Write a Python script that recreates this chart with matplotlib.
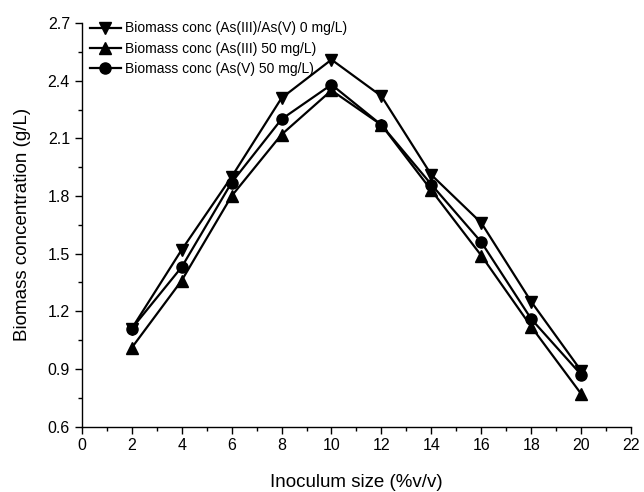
import matplotlib
matplotlib.use('Agg')
import matplotlib.pyplot as plt
from matplotlib.ticker import MultipleLocator

plt.rcParams['font.family'] = ['Liberation Sans', 'DejaVu Sans']

# inoculum size (%v/v)
inoculum = [2, 4, 6, 8, 10, 12, 14, 16, 18, 20]

# biomass concentration (g/L)
biomass_ctrl = [1.11, 1.52, 1.90, 2.31, 2.51, 2.32, 1.91, 1.66, 1.25, 0.89]
biomass_as3 = [1.01, 1.36, 1.80, 2.12, 2.35, 2.17, 1.83, 1.49, 1.12, 0.77]
biomass_as5 = [1.11, 1.43, 1.87, 2.20, 2.38, 2.17, 1.86, 1.56, 1.16, 0.87]

labels = ['Biomass conc (As(III)/As(V) 0 mg/L)',
          'Biomass conc (As(III) 50 mg/L)',
          'Biomass conc (As(V) 50 mg/L)']

fig = plt.figure(figsize=(6.44, 4.92), dpi=100)
ax = fig.add_axes([0.127, 0.133, 0.853, 0.820])

ax.plot(inoculum, biomass_ctrl, 'k-', marker='v', ms=8, lw=1.6, label=labels[0])
ax.plot(inoculum, biomass_as3, 'k-', marker='^', ms=8, lw=1.6, label=labels[1])
ax.plot(inoculum, biomass_as5, 'k-', marker='o', ms=8, lw=1.6, label=labels[2])

ax.set_xlim(0, 22)
ax.set_ylim(0.6, 2.7)
ax.xaxis.set_major_locator(MultipleLocator(2))
ax.xaxis.set_minor_locator(MultipleLocator(1))
ax.yaxis.set_major_locator(MultipleLocator(0.3))
ax.yaxis.set_minor_locator(MultipleLocator(0.15))
ax.yaxis.set_major_formatter(plt.FormatStrFormatter('%.1f'))

ax.spines['top'].set_visible(False)
ax.spines['right'].set_visible(False)
for s in ['left', 'bottom']:
    ax.spines[s].set_linewidth(1.0)
ax.tick_params(which='major', direction='out', length=5, width=1, labelsize=11.5)
ax.tick_params(which='minor', direction='out', length=3, width=1)

ax.set_xlabel('Inoculum size (%v/v)', fontsize=13.5, labelpad=15)
ax.set_ylabel('Biomass concentration (g/L)', fontsize=13.5, labelpad=12)

ax.legend(loc='upper left', bbox_to_anchor=(0.0, 1.025), frameon=False,
          fontsize=10, handlelength=2.2, handletextpad=0.3,
          labelspacing=0.45, borderaxespad=0.2)

plt.savefig('out.png', dpi=100)
